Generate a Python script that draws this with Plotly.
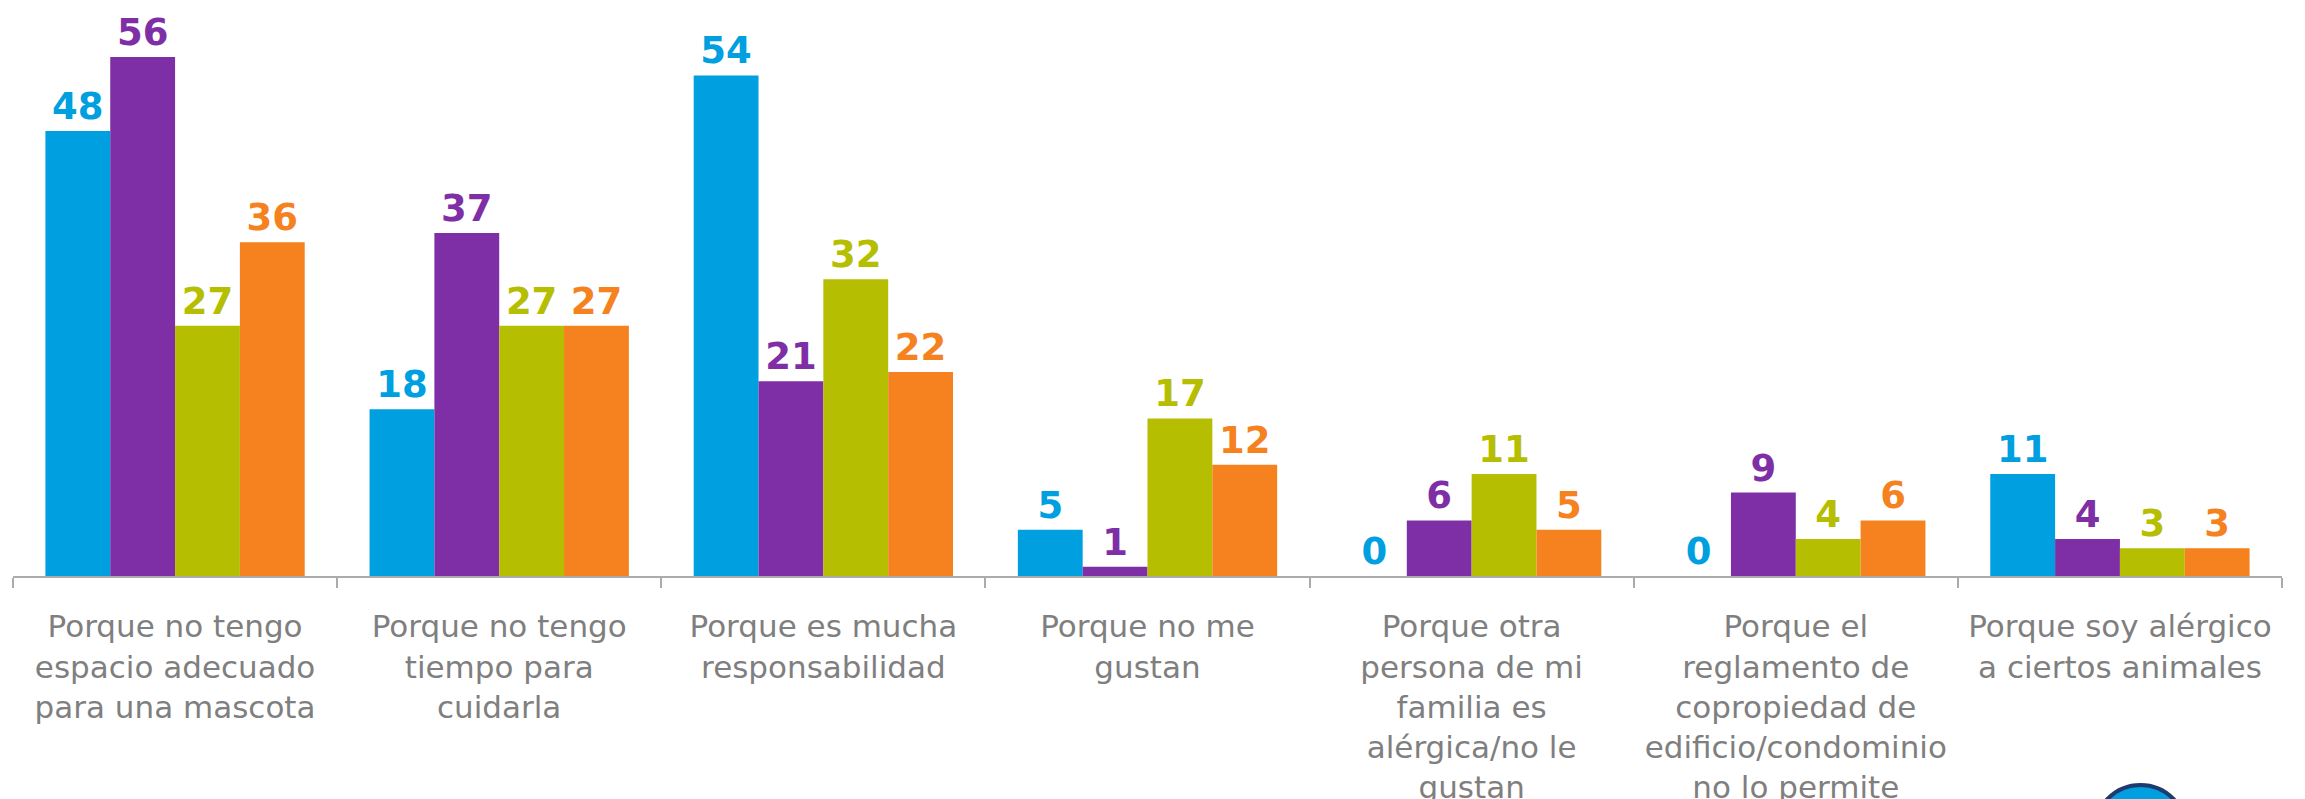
import plotly.graph_objects as go

categories = [
    "Porque no tengo<br>espacio adecuado<br>para una mascota",
    "Porque no tengo<br>tiempo para<br>cuidarla",
    "Porque es mucha<br>responsabilidad",
    "Porque no me<br>gustan",
    "Porque otra<br>persona de mi<br>familia es<br>alérgica/no le<br>gustan",
    "Porque el<br>reglamento de<br>copropiedad de<br>edificio/condominio<br>no lo permite",
    "Porque soy alérgico<br>a ciertos animales",
]
serie_1 = [48, 18, 54, 5, 0, 0, 11]
serie_2 = [56, 37, 21, 1, 6, 9, 4]
serie_3 = [27, 27, 32, 17, 11, 4, 3]
serie_4 = [36, 27, 22, 12, 5, 6, 3]
series_names = ["Serie 1", "Serie 2", "Serie 3", "Serie 4"]
colors = ["#009FE0", "#7F2FA5", "#B5BE00", "#F5821F"]

# page body has an 8px margin; size the figure to fill the remaining window
W, H = 2297, 791
ML, MR, MT, MB = 5, 23, 0, 223

fig = go.Figure()
for name, vals, col in zip(series_names, [serie_1, serie_2, serie_3, serie_4], colors):
    fig.add_trace(go.Bar(
        x=categories, y=vals, name=name,
        marker=dict(color=col, line=dict(width=0)),
        text=[str(v) for v in vals], textposition="outside",
        textfont=dict(color=col, size=37, family="DejaVu Sans", weight=700),
        cliponaxis=False,
    ))

fig.update_layout(
    width=W, height=H,
    margin=dict(l=ML, r=MR, t=MT, b=MB, autoexpand=False),
    barmode="group", bargap=0.2, bargroupgap=0,
    plot_bgcolor="white", paper_bgcolor="white",
    showlegend=False,
    xaxis=dict(
        showline=True, linecolor="#ABABAB", linewidth=2,
        ticks="outside", tickson="boundaries", ticklen=10, tickcolor="#ABABAB", tickwidth=2,
        tickfont=dict(family="DejaVu Sans", size=31, color="#7F7F7F"),
        ticklabelstandoff=22,
        automargin=False,
        showgrid=False,
    ),
    yaxis=dict(range=[0, (H - MT - MB) / 9.27], visible=False, showgrid=False, automargin=False),
)

pw = W - ML - MR
ph = H - MT - MB
fig.add_shape(type="circle", xref="paper", yref="paper",
              x0=(2087 - ML) / pw, x1=(2178 - ML) / pw,
              y0=(H - MB - 867) / ph, y1=(H - MB - 777) / ph,
              fillcolor="#009FE0", line=dict(color="#1F3A6E", width=4), layer="above")

fig.write_html("out.html")
